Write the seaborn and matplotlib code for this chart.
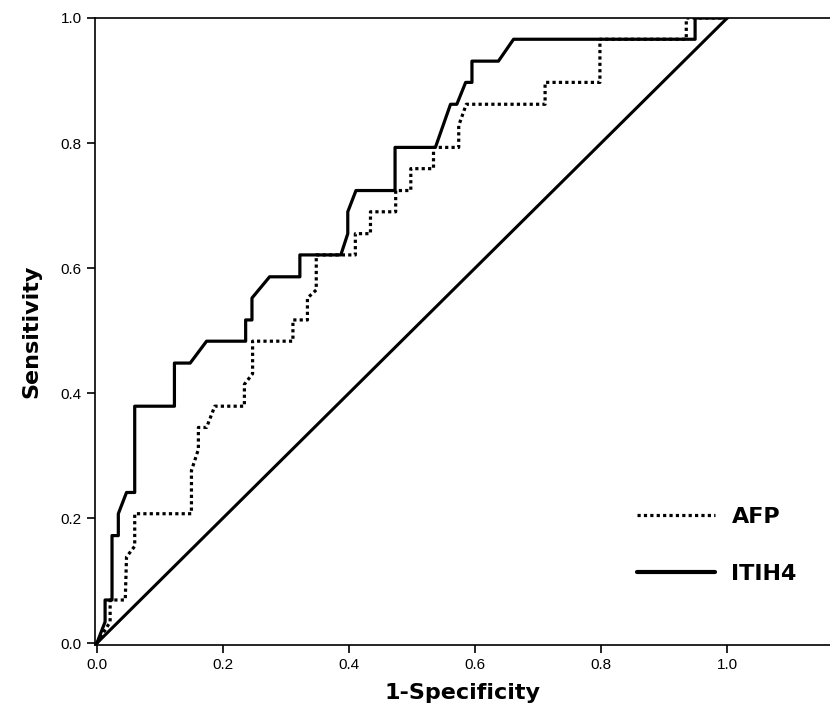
import numpy as np
import pandas as pd
import matplotlib
matplotlib.use("Agg")
import matplotlib.pyplot as plt
import seaborn as sns

# ROC points (1-specificity, sensitivity)
itih4_fpr = [0.0, 0.013, 0.013, 0.024, 0.024, 0.034, 0.034, 0.047, 0.060, 0.060,
             0.123, 0.123, 0.148, 0.174, 0.236, 0.236, 0.246, 0.246, 0.274, 0.322,
             0.322, 0.387, 0.398, 0.398, 0.411, 0.473, 0.473, 0.537, 0.561, 0.571,
             0.585, 0.595, 0.595, 0.637, 0.661, 0.949, 0.949, 1.0]
itih4_tpr = [0.0, 0.034, 0.069, 0.069, 0.172, 0.172, 0.207, 0.241, 0.241, 0.379,
             0.379, 0.448, 0.448, 0.483, 0.483, 0.517, 0.517, 0.552, 0.586, 0.586,
             0.621, 0.621, 0.655, 0.690, 0.724, 0.724, 0.793, 0.793, 0.862, 0.862,
             0.897, 0.897, 0.931, 0.931, 0.966, 0.966, 1.0, 1.0]

afp_fpr = [0.0, 0.021, 0.021, 0.045, 0.047, 0.060, 0.060, 0.150, 0.150, 0.161,
           0.161, 0.174, 0.187, 0.234, 0.234, 0.247, 0.247, 0.311, 0.311, 0.334,
           0.334, 0.348, 0.348, 0.410, 0.410, 0.434, 0.434, 0.474, 0.474, 0.498,
           0.498, 0.534, 0.534, 0.574, 0.574, 0.586, 0.711, 0.711, 0.798, 0.798,
           0.935, 0.935, 1.0]
afp_tpr = [0.0, 0.034, 0.069, 0.069, 0.138, 0.155, 0.207, 0.207, 0.276, 0.310,
           0.345, 0.345, 0.379, 0.379, 0.414, 0.431, 0.483, 0.483, 0.517, 0.517,
           0.552, 0.565, 0.621, 0.621, 0.655, 0.655, 0.690, 0.690, 0.724, 0.724,
           0.759, 0.759, 0.793, 0.793, 0.828, 0.862, 0.862, 0.897, 0.897, 0.966,
           0.966, 1.0, 1.0]

ref_x = [0.0, 1.0]
ref_y = [0.0, 1.0]

markers = ["AFP", "ITIH4"]
x_ticks = [0.0, 0.2, 0.4, 0.6, 0.8, 1.0]
y_ticks = [0.0, 0.2, 0.4, 0.6, 0.8, 1.0]

sns.set_style("ticks")
plt.rcParams["font.family"] = ["Liberation Sans", "DejaVu Sans"]
plt.rcParams["text.color"] = "black"
plt.rcParams["axes.labelcolor"] = "black"

df = pd.concat([
    pd.DataFrame({"fpr": afp_fpr, "tpr": afp_tpr, "marker": "AFP"}),
    pd.DataFrame({"fpr": itih4_fpr, "tpr": itih4_tpr, "marker": "ITIH4"}),
], ignore_index=True)

fig = plt.figure(figsize=(8.3, 7.1), dpi=100)
ax = fig.add_axes([95 / 830, 65 / 710, 1 - 95 / 830, (645 - 18) / 710])

sns.lineplot(data=df, x="fpr", y="tpr", hue="marker", style="marker",
             hue_order=markers, style_order=markers,
             palette={"AFP": "black", "ITIH4": "black"},
             dashes={"AFP": (1, 1), "ITIH4": ""},
             sort=False, estimator=None, linewidth=2.3, ax=ax, legend=False)
for ln in ax.lines:
    ln.set_dash_capstyle("butt")

sns.lineplot(x=ref_x, y=ref_y, color="black", linewidth=2.2, ax=ax)

ax.set_xlim(-0.003, 1.163)
ax.set_ylim(-0.003, 1.0)
ax.set_xticks(x_ticks)
ax.set_yticks(y_ticks)
ax.set_xticklabels([f"{t:.1f}" for t in x_ticks], fontsize=11)
ax.set_yticklabels([f"{t:.1f}" for t in y_ticks], fontsize=11)
ax.tick_params(direction="out", length=6, width=1.2, colors="black")

for side in ["left", "bottom", "top"]:
    ax.spines[side].set_linewidth(1.2)
    ax.spines[side].set_color("black")
ax.spines["right"].set_visible(False)

ax.set_xlabel("1-Specificity", fontsize=16, fontweight="bold",
              family="DejaVu Sans", labelpad=8)
ax.set_ylabel("Sensitivity", fontsize=16, fontweight="bold",
              family="DejaVu Sans", labelpad=14)

handles = [
    plt.Line2D([], [], color="black", linewidth=2.3, linestyle=(0, (1, 1)),
               dash_capstyle="butt"),
    plt.Line2D([], [], color="black", linewidth=3),
]
ax.legend(handles, markers, loc="upper left",
          bbox_to_anchor=(637 / 830, 1 - 507 / 710), bbox_transform=fig.transFigure,
          frameon=False, borderpad=0, borderaxespad=0, handlelength=3.5,
          handletextpad=0.75, labelspacing=1.65,
          prop={"family": "DejaVu Sans", "size": 16, "weight": "semibold"})

fig.savefig("out.png", dpi=100)
